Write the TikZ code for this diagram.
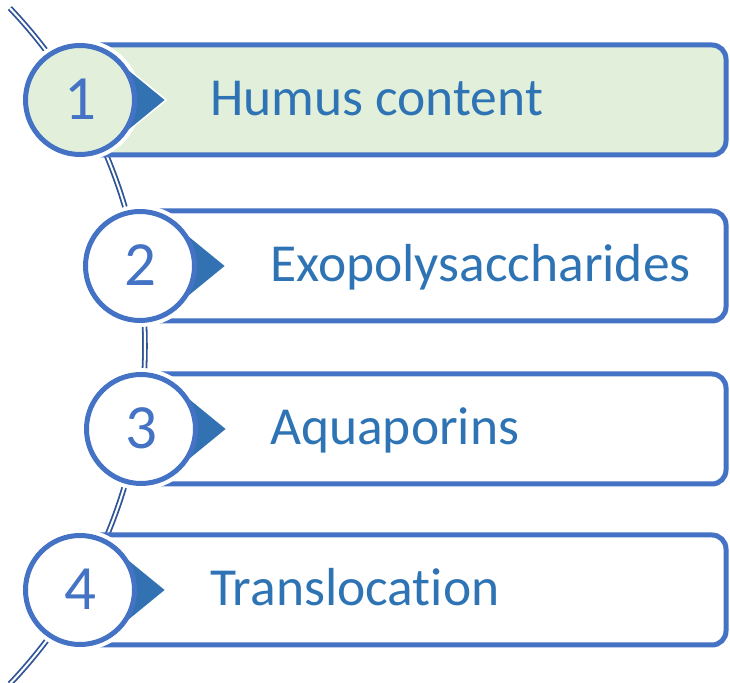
\documentclass[tikz,border=0pt]{standalone}
\usepackage{fontspec}
\setmainfont{Carlito}[Ligatures=NoCommon]
\usetikzlibrary{calc}
\definecolor{ringblue}{HTML}{4472C4}
\definecolor{textblue}{HTML}{2E74B5}
\definecolor{tri}{HTML}{3372B2}
\definecolor{spine}{HTML}{2F5597}
\definecolor{lightgreen}{HTML}{E2EFDA}
\tikzset{
  itembox/.style={draw=ringblue, line width=5pt, rounded corners=14pt},
  halo/.style={draw=white, line width=10pt},
  ring/.style={circle, draw=ringblue, line width=5pt, minimum size=109pt, inner sep=0pt},
  pointer/.style={fill=tri, draw=white, line width=1.5pt, line join=miter},
  label/.style={anchor=base west, text=textblue, font=\fontsize{53.5}{60}\selectfont, inner sep=0pt},
  num/.style={anchor=base, text=ringblue, font=\fontsize{63}{70}\selectfont, inner sep=0pt},
  spineline/.style={draw=spine, line width=1.8pt, double=white, double distance=2pt}
}
\begin{document}
\begin{tikzpicture}[x=1pt,y=1pt]
\useasboundingbox (0,0) rectangle (730,682);
% spine arc
\coordinate (sc) at (-345,336);
\coordinate (stop) at ($(sc)+(43.6:490)$);
\draw[spineline] (stop) arc[start angle=43.6, end angle=-43.6, radius=490];
% items
\foreach \cx/\cy/\n/\txt/\tx/\fillc in {80/582/1/Humus content/210/lightgreen, 140/416/2/Exopolysaccharides/270/white, 141/253/3/Aquaporins/270/white, 80/92/4/Translocation/210/white}{
  \path[itembox, fill=\fillc] (\cx,\cy-55) rectangle (726,\cy+55);
  \path[halo] (\cx,\cy) circle[radius=56];
  \path[pointer] (\cx+20,\cy+54) -- (\cx+86,\cy) -- (\cx+20,\cy-54) -- cycle;
  \node[ring, fill=\fillc] (c\n) at (\cx,\cy) {};
  \node[num] (n\n) at (\cx,\cy-20) {\n};
  \node[label] (t\n) at (\tx,\cy-16) {\txt};
}
\end{tikzpicture}
\end{document}
